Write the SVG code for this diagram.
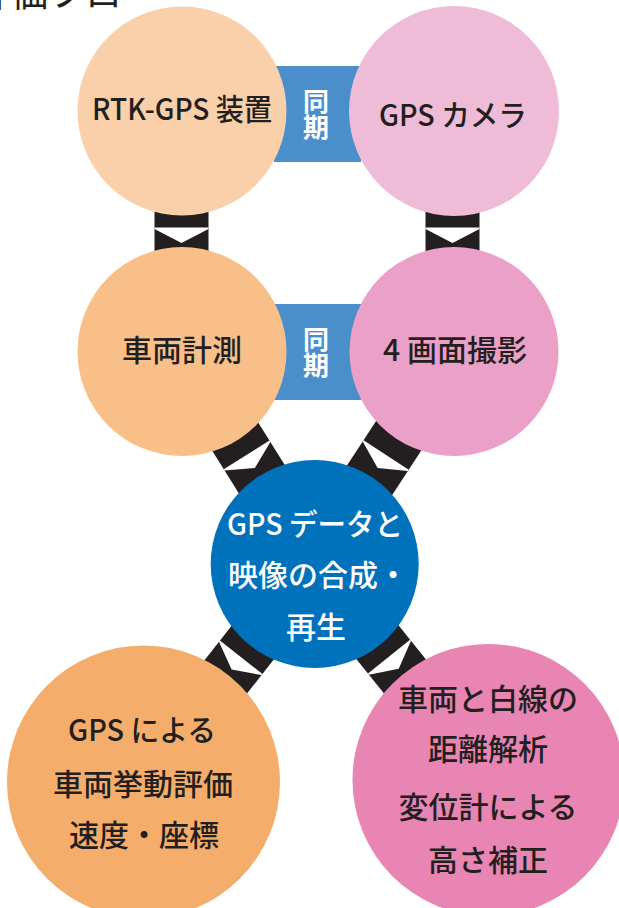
<svg xmlns="http://www.w3.org/2000/svg" width="619" height="908" viewBox="0 0 619 908">
<style>
.t{font-family:"Noto Sans CJK JP","Noto Sans",sans-serif;font-size:30px;font-weight:500;fill:#231f20;text-anchor:middle}
.w{fill:#ffffff}
.sync{font-family:"Noto Sans CJK JP","Noto Sans",sans-serif;font-size:26px;font-weight:bold;fill:#ffffff;writing-mode:vertical-rl;text-anchor:start}
.title{font-family:"Noto Sans CJK JP","Noto Sans",sans-serif;font-size:37px;fill:#231f20}
</style>
<defs>
<g id="link">
<rect x="-27" y="-45" width="54" height="90" fill="#231f20"/>
<polygon points="-27,-3.5 27,-3.5 27,-2 0,12 -27,-2" fill="#ffffff"/>
</g>
</defs>
<rect width="619" height="908" fill="#ffffff"/>
<text class="title" x="-26" y="7">評価フロー</text>
<g id="sync">
<rect x="274" y="66" width="87" height="96" fill="#4a8fcb"/>
<rect x="274" y="304" width="87" height="96" fill="#4a8fcb"/>
<text class="sync" x="316" y="88">同期</text>
<text class="sync" x="316" y="326">同期</text>
</g>
<g id="connectors">
<use href="#link" transform="translate(181.5,231)"/>
<use href="#link" transform="translate(452.5,231)"/>
<use href="#link" transform="translate(248.5,457.9) rotate(-32)"/>
<use href="#link" transform="translate(384.2,457.9) rotate(33.2)"/>
<use href="#link" transform="translate(239,660) rotate(38.1)"/>
<use href="#link" transform="translate(391.2,659.3) rotate(-38.8)"/>
</g>
<g id="rtk">
<circle cx="182" cy="111" r="104.5" fill="#f9d0a9"/>
<text class="t" x="182" y="120" textLength="180" lengthAdjust="spacingAndGlyphs">RTK-GPS 装置</text>
</g>
<g id="camera">
<circle cx="454" cy="111" r="105" fill="#efbcd7"/>
<text class="t" x="453" y="126" textLength="148" lengthAdjust="spacingAndGlyphs">GPS カメラ</text>
</g>
<g id="measure">
<circle cx="182" cy="351.5" r="104.5" fill="#f8c088"/>
<text class="t" x="182" y="361">車両計測</text>
</g>
<g id="shoot">
<circle cx="454" cy="351.5" r="104.5" fill="#eaa0c7"/>
<text class="t" x="455" y="361">4 画面撮影</text>
</g>
<g id="merge">
<circle cx="314.7" cy="564" r="104" fill="#0071bb"/>
<text class="t w" x="315" y="535" textLength="176" lengthAdjust="spacingAndGlyphs">GPS データと</text>
<text class="t w" x="318" y="586">映像の合成・</text>
<text class="t w" x="316" y="638">再生</text>
</g>
<g id="eval">
<circle cx="143.5" cy="782" r="136.5" fill="#f5ad6b"/>
<text class="t" x="142" y="741" textLength="148" lengthAdjust="spacingAndGlyphs">GPS による</text>
<text class="t" x="143" y="795">車両挙動評価</text>
<text class="t" x="144" y="846">速度・座標</text>
</g>
<g id="analysis">
<circle cx="488.5" cy="780" r="136" fill="#e885b3"/>
<text class="t" x="488" y="710">車両と白線の</text>
<text class="t" x="488" y="760">距離解析</text>
<text class="t" x="488" y="818">変位計による</text>
<text class="t" x="488" y="871">高さ補正</text>
</g>
</svg>
